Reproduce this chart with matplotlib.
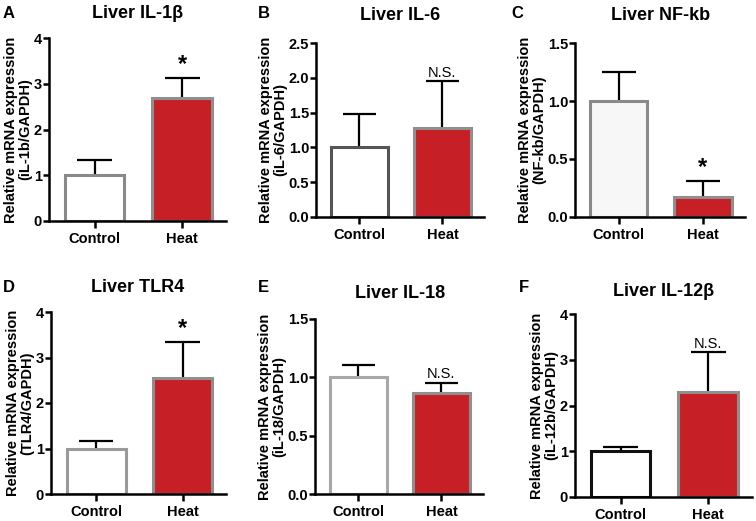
import matplotlib
matplotlib.use("Agg")
import matplotlib.pyplot as plt

plt.rcParams['font.family'] = ['Liberation Sans', 'DejaVu Sans']

categories = ["Control", "Heat"]
letters = ["A", "B", "C", "D", "E", "F"]
titles = ["Liver IL-1β", "Liver IL-6", "Liver NF-kb", "Liver TLR4", "Liver IL-18", "Liver IL-12β"]
ylabels = ["Relative mRNA expression\n(iL-1b/GAPDH)",
           "Relative mRNA expression\n(iL-6/GAPDH)",
           "Relative mRNA expression\n(NF-kb/GAPDH)",
           "Relative mRNA expression\n(TLR4/GAPDH)",
           "Relative mRNA expression\n(iL-18/GAPDH)",
           "Relative mRNA expression\n(iL-12b/GAPDH)"]
means = [[1.00, 2.68], [1.00, 1.28], [1.00, 0.17], [1.00, 2.56], [1.00, 0.87], [1.00, 2.29]]
upper = [[1.33, 3.12], [1.48, 1.95], [1.25, 0.31], [1.17, 3.33], [1.11, 0.95], [1.09, 3.16]]
signif = ["*", "N.S.", "*", "*", "N.S.", "N.S."]
yticks = [[0, 1, 2, 3, 4], [0.0, 0.5, 1.0, 1.5, 2.0, 2.5], [0.0, 0.5, 1.0, 1.5],
          [0, 1, 2, 3, 4], [0.0, 0.5, 1.0, 1.5], [0, 1, 2, 3, 4]]
ytick_fmt = ["{:.0f}", "{:.1f}", "{:.1f}", "{:.0f}", "{:.1f}", "{:.0f}"]

ctrl_edge = ["#8a8a8a", "#555555", "#8a8a8a", "#9a9a9a", "#a8a8a8", "#111111"]
ctrl_fill = ["white", "white", "#f7f7f7", "white", "white", "white"]
red = "#c62026"

W, H = 756, 521
# panel boxes in pixels: left, right, top, bottom
boxes = [(49, 226, 38, 221), (316, 484, 43, 217), (575, 745, 43, 217),
         (51, 226, 312, 494), (315, 483, 319, 494), (575, 752, 314, 497)]
letter_pos = [(3, 14), (258, 14), (511, 14), (3, 288), (258, 288), (519, 287)]
title_pos = [(138, 14), (400, 15), (661, 15), (138, 288), (400, 293), (664, 291)]

fig = plt.figure(figsize=(W / 100, H / 100), dpi=100)

for i in range(6):
    l, r, t, b = boxes[i]
    ax = fig.add_axes([l / W, 1 - b / H, (r - l) / W, (b - t) / H])
    x = [0, 1]
    bw = 0.68
    ax.vlines(x, means[i], upper[i], color="black", lw=1.6, zorder=1)
    ax.hlines(upper[i], [xi - 0.2 for xi in x], [xi + 0.2 for xi in x], color="black", lw=1.6, zorder=1)
    ax.bar(x, means[i], width=bw, color=[ctrl_fill[i], red],
           edgecolor=[ctrl_edge[i], "#8f8f8f"], linewidth=2.2, zorder=2)
    ymax = yticks[i][-1]
    ax.set_ylim(0, ymax)
    ax.set_xlim(-0.52, 1.5)
    ax.set_yticks(yticks[i])
    ax.set_yticklabels([ytick_fmt[i].format(v) for v in yticks[i]], fontweight="bold", fontsize=10.5)
    ax.set_xticks(x)
    ax.set_xticklabels(categories, fontweight="bold", fontsize=10.5)
    for s in ["top", "right"]:
        ax.spines[s].set_visible(False)
    for s in ["left", "bottom"]:
        ax.spines[s].set_linewidth(1.8)
    ax.tick_params(axis="y", length=4, width=1.8, pad=1)
    ax.tick_params(axis="x", length=5, width=1.8, pad=3)
    ax.set_ylabel(ylabels[i], fontweight="bold", fontsize=10.5, labelpad=1, linespacing=1.0)
    if signif[i] == "*":
        ax.text(1, upper[i][1] + ymax * 0.012, "*", ha="center", va="bottom", fontsize=17, fontweight="bold")
    else:
        ax.text(1, upper[i][1] + ymax * 0.01, "N.S.", ha="center", va="bottom", fontsize=10.5)
    fig.text(title_pos[i][0] / W, 1 - title_pos[i][1] / H, titles[i], ha="center", va="center",
             fontsize=13, fontweight="bold")
    fig.text(letter_pos[i][0] / W, 1 - letter_pos[i][1] / H, letters[i], ha="left", va="center",
             fontsize=12, fontweight="bold")

fig.savefig("out.png", dpi=100)
